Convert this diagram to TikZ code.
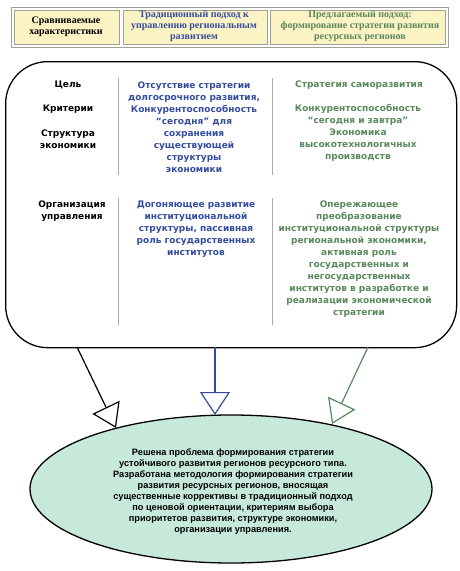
\documentclass[tikz,border=0pt]{standalone}
\usepackage{fontspec}
\setmainfont{Liberation Serif}
\newfontfamily\gothic{DejaVu Sans}
\newfontfamily\arialf{Liberation Sans}
\usetikzlibrary{shapes.geometric,arrows.meta}
\definecolor{hdrfill}{RGB}{251,243,196}
\definecolor{hdrline}{RGB}{160,160,150}
\definecolor{tblue}{RGB}{52,76,160}
\definecolor{tgreen}{RGB}{88,136,92}
\definecolor{ellfill}{RGB}{198,233,218}
\definecolor{divgray}{RGB}{170,170,170}
\tikzset{
  hdrcell/.style={draw=hdrline, fill=hdrfill, line width=0.6pt, inner sep=0pt},
  hdrtext/.style={font=\fontsize{10}{11}\selectfont\bfseries, align=center, inner sep=0pt},
  midtext/.style={font=\gothic\fontsize{9}{12}\selectfont\bfseries, align=center, inner sep=0pt},
  divline/.style={draw=divgray, line width=1pt},
  arr/.style={line width=1.2pt, -{Triangle[open, length=23pt, width=30pt, line width=1.2pt]}},
}
\begin{document}
\begin{tikzpicture}[x=1pt,y=-1pt]
\useasboundingbox (0,0) rectangle (460,571);
% header table
\node[draw=hdrline, line width=0.8pt, minimum width=437pt, minimum height=40pt, inner sep=0pt, anchor=north west] (hdr) at (11,7) {};
\node[hdrcell, minimum width=105pt, minimum height=34pt, anchor=north west] (h1) at (14,10) {};
\node[hdrcell, minimum width=144pt, minimum height=34pt, anchor=north west] (h2) at (123,10) {};
\node[hdrcell, minimum width=175pt, minimum height=34pt, anchor=north west] (h3) at (270,10) {};
\node[hdrtext] (h1t) at (66,26.5) {Сравниваемые\\характеристики};
\node[hdrtext, text=tblue] (h2t) at (194,26.5) {Традиционный подход к\\управлению региональным\\развитием};
\node[hdrtext, text=tgreen] (h3t) at (360,26.5) {Предлагаемый подход:\\формирование стратегии развития\\ресурсных регионов};
% main rounded box
\node[draw, line width=1.3pt, rounded corners=42pt, minimum width=451pt, minimum height=286pt, anchor=north west, inner sep=0pt] (box) at (5,61) {};
% dividers
\draw[divline] (118,78) -- (118,175);
\draw[divline] (272,78) -- (272,175);
\draw[divline] (118,198) -- (118,325);
\draw[divline] (272,198) -- (272,325);
% left labels
\node[midtext] (l1) at (68,85) {Цель};
\node[midtext] (l2) at (68,109) {Критерии};
\node[midtext] (l3) at (68,139) {Структура\\экономики};
\node[midtext] (l4) at (72,211) {Организация\\управления};
% blue column
\node[midtext, text=tblue] (b1) at (194,127) {Отсутствие стратегии\\долгосрочного развития,\\Конкурентоспособность\\“сегодня” для\\сохранения\\существующей\\структуры\\экономики};
\node[midtext, text=tblue] (b2) at (196,229) {Догоняющее развитие\\институциональной\\структуры, пассивная\\роль государственных\\институтов};
% green column
\node[midtext, text=tgreen] (g1) at (359,85) {Стратегия саморазвития};
\node[midtext, text=tgreen] (g2) at (358,133) {Конкурентоспособность\\“сегодня и завтра”\\Экономика\\высокотехнологичных\\производств};
\node[midtext, text=tgreen] (g3) at (359,259) {Опережающее\\преобразование\\институциональной структуры\\региональной экономики,\\активная роль\\государственных и\\негосударственных\\институтов в разработке и\\реализации экономической\\стратегии};
% ellipse
\node[ellipse, draw, line width=1.3pt, fill=ellfill, minimum width=402pt, minimum height=148pt, inner sep=0pt] (ell) at (231,489) {};
\node[font=\arialf\fontsize{9.2}{11}\selectfont\bfseries, align=center, inner sep=0pt] (ellt) at (233,491.5) {Решена проблема формирования стратегии\\устойчивого развития регионов ресурсного типа.\\Разработана методология формирования стратегии\\развития ресурсных регионов, вносящая\\существенные коррективы в традиционный подход\\по ценовой ориентации, критериям выбора\\приоритетов развития, структуре экономики,\\организации управления.};
% arrows
\coordinate (s1) at (77,347);
\coordinate (s2) at (215,347);
\coordinate (s3) at (368,347);
\coordinate (t1) at (116,428);
\coordinate (t2) at (215,415);
\coordinate (t3) at (332,424);
\draw[arr] (s1) -- (t1);
\draw[arr, draw=tblue] (s2) -- (t2);
\draw[arr, draw=tgreen] (s3) -- (t3);
\end{tikzpicture}
\end{document}
